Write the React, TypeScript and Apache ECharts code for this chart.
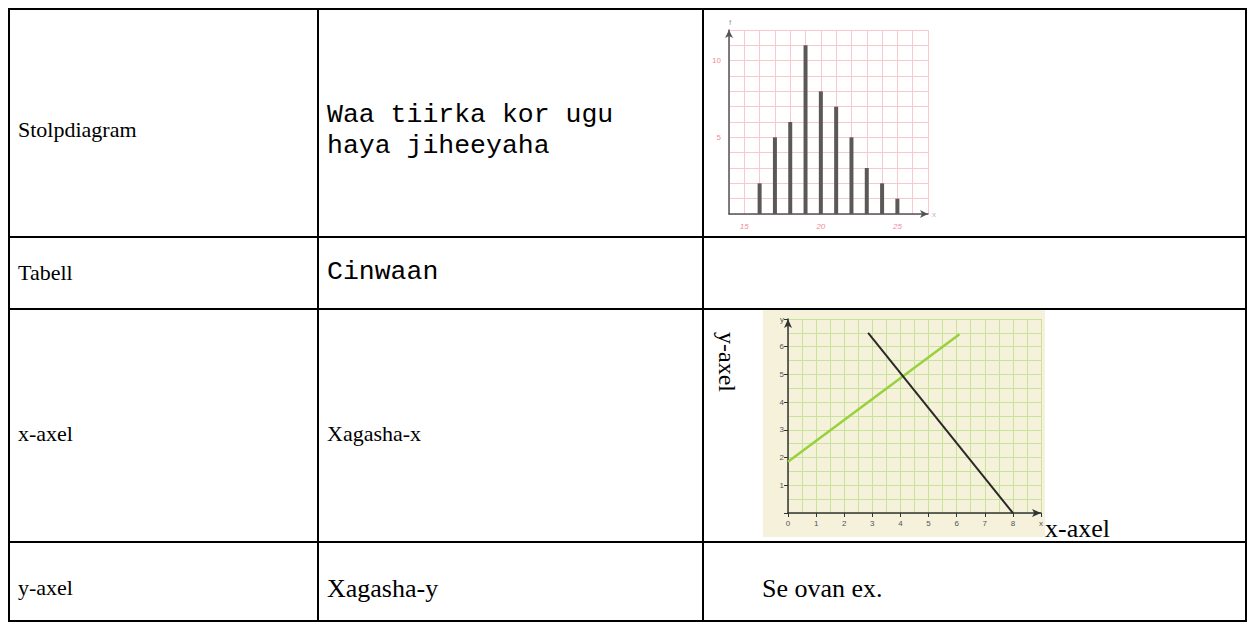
import React, { useEffect, useRef } from "react";
import * as echarts from "echarts";

// Bar chart (Stolpdiagram) data
const barX = [16, 17, 18, 19, 20, 21, 22, 23, 24, 25];
const barF = [2, 5, 6, 11, 8, 7, 5, 3, 2, 1];

// Line chart (coordinate system) data
const greenLine = [
  [0, 1.85],
  [6.1, 6.45],
];
const blackLine = [
  [2.85, 6.5],
  [8.0, 0],
];

// Table texts
const col1 = ["Stolpdiagram", "Tabell", "x-axel", "y-axel"];
const col2Row1 = ["Waa tiirka kor ugu", "haya jiheeyaha"];
const col2Row2 = "Cinwaan";
const col2Row3 = "Xagasha-x";
const col2Row4 = "Xagasha-y";
const col3Row4 = "Se ovan ex.";

export default function App() {
  const ref = useRef<HTMLDivElement>(null);
  useEffect(() => {
    if (!ref.current) return;
    const chart = echarts.init(ref.current, undefined, { renderer: "svg" });
    const serif = "Liberation Serif";
    const mono = "Liberation Mono";
    const L = (x1: number, y1: number, x2: number, y2: number) => ({
      type: "line",
      shape: { x1, y1, x2, y2 },
      style: { stroke: "#000", lineWidth: 2 },
      z: 10,
    });
    const T = (text: string, x: number, y: number, fontSize: number, fontFamily: string, extra: any = {}) => ({
      type: "text",
      x,
      y,
      style: { text, fontSize, fontFamily, fill: "#000", align: "left", verticalAlign: "middle" },
      z: 10,
      ...extra,
    });
    const graphic: any[] = [
      { type: "rect", shape: { x: 763, y: 310, width: 282, height: 227 }, style: { fill: "#f5f1da" }, z: -10 },
      L(8, 9, 1247, 9),
      L(8, 237, 1247, 237),
      L(8, 309, 1247, 309),
      L(8, 542, 1247, 542),
      L(8, 621, 1247, 621),
      L(9, 8, 9, 622),
      L(318, 8, 318, 622),
      L(703, 8, 703, 622),
      L(1246, 8, 1246, 622),
      T(col1[0], 18, 129, 22, serif),
      T(col1[1], 18, 272, 22, serif),
      T(col1[2], 18, 433, 22, serif),
      T(col1[3], 18, 587, 22, serif),
      T(col2Row1[0], 327, 115, 26.5, mono),
      T(col2Row1[1], 327, 146, 26.5, mono),
      T(col2Row2, 327, 272, 26.5, mono),
      T(col2Row3, 327, 433, 22, serif),
      T(col2Row4, 327, 588, 26, serif),
      T(col3Row4, 762, 588, 26, serif),
      T("x-axel", 1045, 528, 26, serif),
      T("y-axel", 727, 332, 24, serif, { rotation: -Math.PI / 2 }),
    ];
    const pink = "#f7c9cf";
    const lgreen = "#c8e49c";
    chart.setOption({
      animation: false,
      graphic,
      grid: [
        { left: 729, top: 30, width: 199, height: 184 },
        { left: 788, top: 319, width: 253, height: 194 },
      ],
      xAxis: [
        {
          type: "value",
          gridIndex: 0,
          min: 14,
          max: 27,
          interval: 1,
          name: "x",
          nameGap: 4,
          nameTextStyle: { color: "#bbb", fontSize: 8 },
          axisLine: { show: true, lineStyle: { color: "#555", width: 1.5 }, symbol: ["none", "arrow"], symbolSize: [6, 8] },
          axisTick: { show: false },
          axisLabel: { color: "#f08c9c", fontSize: 8, fontStyle: "italic", formatter: (v: number) => (v % 5 === 0 ? String(v) : "") },
          splitLine: { show: true, lineStyle: { color: pink, width: 1 } },
        },
        {
          type: "value",
          gridIndex: 1,
          min: 0,
          max: 9,
          interval: 1,
          axisLine: { show: true, onZero: false, lineStyle: { color: "#333", width: 1.5 }, symbol: ["none", "arrow"], symbolSize: [6, 9] },
          axisTick: { show: true, length: 4, lineStyle: { color: "#333" } },
          axisLabel: { color: "#555", fontSize: 8, margin: 6, formatter: (v: number) => (v === 9 ? "x" : String(v)) },
          splitLine: { show: true, lineStyle: { color: lgreen, width: 1 } },
          minorTick: { show: false, splitNumber: 2 },
          minorSplitLine: { show: true, lineStyle: { color: lgreen, width: 1 } },
        },
      ],
      yAxis: [
        {
          type: "value",
          gridIndex: 0,
          min: 0,
          max: 12,
          interval: 1,
          name: "f",
          nameGap: 4,
          nameTextStyle: { color: "#999", fontSize: 8, align: "left" },
          axisLine: { show: true, lineStyle: { color: "#555", width: 1.5 }, symbol: ["none", "arrow"], symbolSize: [6, 8] },
          axisTick: { show: false },
          axisLabel: { color: "#f08c9c", fontSize: 8, formatter: (v: number) => (v !== 0 && v % 5 === 0 ? String(v) : "") },
          splitLine: { show: true, lineStyle: { color: pink, width: 1 } },
        },
        {
          type: "value",
          gridIndex: 1,
          min: 0,
          max: 7,
          interval: 1,
          axisLine: { show: true, onZero: false, lineStyle: { color: "#333", width: 1.5 }, symbol: ["none", "arrow"], symbolSize: [6, 9] },
          axisTick: { show: true, length: 4, lineStyle: { color: "#333" } },
          axisLabel: { color: "#555", fontSize: 8, margin: 4, formatter: (v: number) => (v === 0 ? "" : v === 7 ? "y" : String(v)) },
          splitLine: { show: true, lineStyle: { color: lgreen, width: 1 } },
          minorTick: { show: false, splitNumber: 2 },
          minorSplitLine: { show: true, lineStyle: { color: lgreen, width: 1 } },
        },
      ],
      series: [
        {
          type: "bar",
          xAxisIndex: 0,
          yAxisIndex: 0,
          barWidth: 4,
          itemStyle: { color: "#5c5858" },
          data: barX.map((x, i) => [x, barF[i]]),
        },
        {
          type: "line",
          xAxisIndex: 1,
          yAxisIndex: 1,
          symbol: "none",
          lineStyle: { color: "#98d13e", width: 2.5 },
          data: greenLine,
        },
        {
          type: "line",
          xAxisIndex: 1,
          yAxisIndex: 1,
          symbol: "none",
          lineStyle: { color: "#2a2a2a", width: 2 },
          data: blackLine,
        },
      ],
    });
    return () => chart.dispose();
  }, []);
  return <div ref={ref} style={{ position: "absolute", left: 0, top: 0, width: 1249, height: 623 }} />;
}
